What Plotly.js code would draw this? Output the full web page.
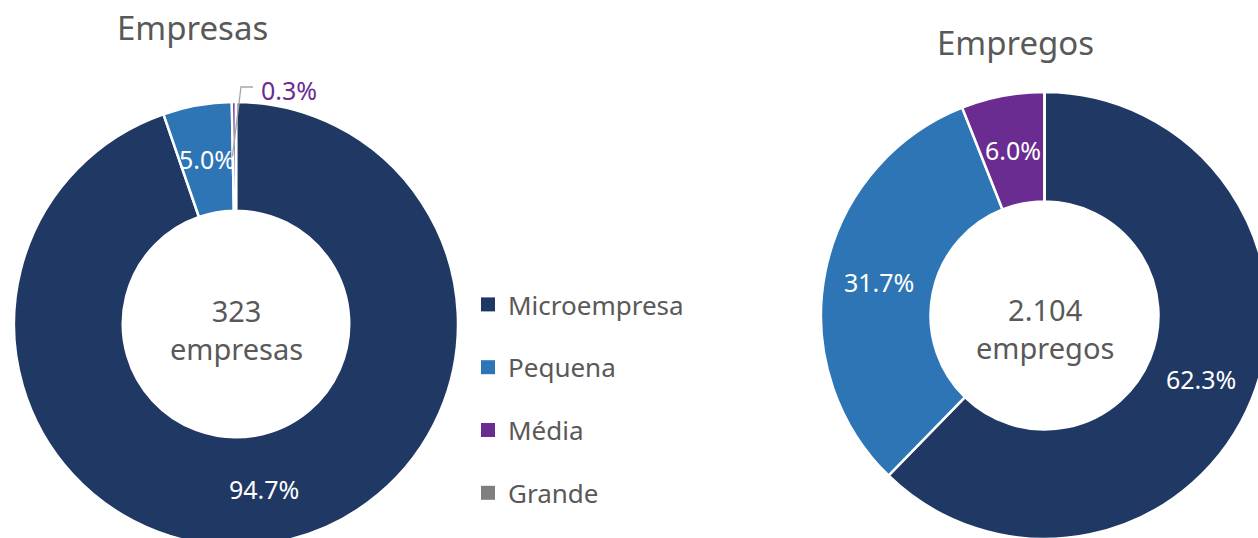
<!DOCTYPE html>
<html>
<head>
<meta charset="utf-8">
<script src="https://cdn.plot.ly/plotly-3.0.1.min.js"></script>
<style>
html,body{margin:0;padding:0;overflow:hidden;background:#fff;width:1258px;height:538px;}
#chart{width:1300px;height:600px;}
</style>
</head>
<body>
<div id="chart"></div>
<script>
// ---- data ----
const categories = ["Microempresa", "Pequena", "Média", "Grande"];
const empresasPct = [94.7, 5.0, 0.3, 0.0];
const empregosPct = [62.3, 31.7, 6.0, 0.0];
const colors = ["#203864", "#2E75B6", "#6A2C91", "#7F7F7F"];
const titles = ["Empresas", "Empregos"];
const centerTexts = ["323<br>empresas", "2.104<br>empregos"];

// ---- layout helpers ----
const W = 1300, H = 600;
const FONT = "Noto Sans, Open Sans, DejaVu Sans, sans-serif";
const GRAY = "#595959";
const HOLE = 0.51;
// pie boxes in pixels (left, top, size) and centre-text offset
const boxes = [
  {l: 14, t: 102, s: 444, off: 5},
  {l: 821, t: 92, s: 447, off: 13}
];
function dom(b){ return {x:[b.l/W,(b.l+b.s)/W], y:[1-(b.t+b.s)/H, 1-b.t/H]}; }

const traces = [];
const annotations = [];
const shapes = [];
const series = [empresasPct, empregosPct];

series.forEach((vals, k) => {
  const b = boxes[k];
  traces.push({
    type: "pie", values: vals, labels: categories, sort: false,
    direction: "clockwise", rotation: 0, hole: HOLE,
    marker: {colors: colors, line: {color: "#ffffff", width: 2.5}},
    textinfo: "none", hoverinfo: "label+percent", showlegend: false,
    domain: dom(b)
  });
  const cx = b.l + b.s/2, cy = b.t + b.s/2, R = b.s/2;
  const rl = R*(1+HOLE)/2;
  const total = vals.reduce((a,c)=>a+c,0);
  let cum = 0;
  vals.forEach((v, i) => {
    const mid = (cum + v/2)/total*2*Math.PI;
    cum += v;
    if (v <= 0) return;
    const px = cx + rl*Math.sin(mid), py = cy - rl*Math.cos(mid);
    if (v < 1) {
      // small slice: outside label with leader line
      const p0x = px - 2, p0y = py;
      const p1x = cx + 5, p1y = b.t - 15;
      const p2x = p1x + 12;
      shapes.push({type:"path", xref:"paper", yref:"paper",
        path:`M ${p0x/W} ${1-p0y/H} L ${p1x/W} ${1-p1y/H} L ${p2x/W} ${1-p1y/H}`,
        line:{color:"#A6A6A6", width:1.3}});
      annotations.push({xref:"paper", yref:"paper", x:(p2x+6)/W, y:1-(p1y+3)/H,
        xanchor:"left", yanchor:"middle", showarrow:false,
        text: v.toFixed(1)+"%", font:{family:FONT, size:25, color:colors[i]}});
    } else {
      annotations.push({xref:"paper", yref:"paper", x:px/W, y:1-py/H,
        xanchor:"center", yanchor:"middle", showarrow:false,
        text: v.toFixed(1)+"%", font:{family:FONT, size:25, color:"#ffffff"}});
    }
  });
  annotations.push({xref:"paper", yref:"paper", x:cx/W, y:1-(cy+b.off)/H,
    xanchor:"center", yanchor:"middle", showarrow:false,
    text: centerTexts[k], font:{family:FONT, size:29, color:GRAY}});
});
annotations.push({xref:"paper", yref:"paper", x:193/W, y:1-28/H, xanchor:"center", yanchor:"middle",
  showarrow:false, text: titles[0], font:{family:FONT, size:33, color:GRAY}});
annotations.push({xref:"paper", yref:"paper", x:1015/W, y:1-42/H, xanchor:"center", yanchor:"middle",
  showarrow:false, text: titles[1], font:{family:FONT, size:33, color:GRAY}});

// legend entries
categories.forEach((c, i) => {
  traces.push({type:"scatter", mode:"markers", x:[null], y:[null], name:c,
    legendgroup:"g"+i, showlegend:true,
    marker:{symbol:"square", size:14, color:colors[i]}, hoverinfo:"skip"});
});

const layout = {
  width: W, height: H,
  margin: {l:0, r:0, t:0, b:0},
  paper_bgcolor: "#ffffff", plot_bgcolor: "rgba(0,0,0,0)",
  showlegend: true,
  legend: {x: 468/W, y: 1-281/H, xanchor:"left", yanchor:"top",
    font:{family:FONT, size:26, color:GRAY}, tracegroupgap: 26,
    traceorder:"grouped", bgcolor:"rgba(0,0,0,0)"},
  xaxis: {visible:false, domain:[0,0.01]},
  yaxis: {visible:false, domain:[0,0.01]},
  annotations: annotations,
  shapes: shapes
};

Plotly.newPlot("chart", traces, layout, {displayModeBar:false, staticPlot:true});
</script>
</body>
</html>
